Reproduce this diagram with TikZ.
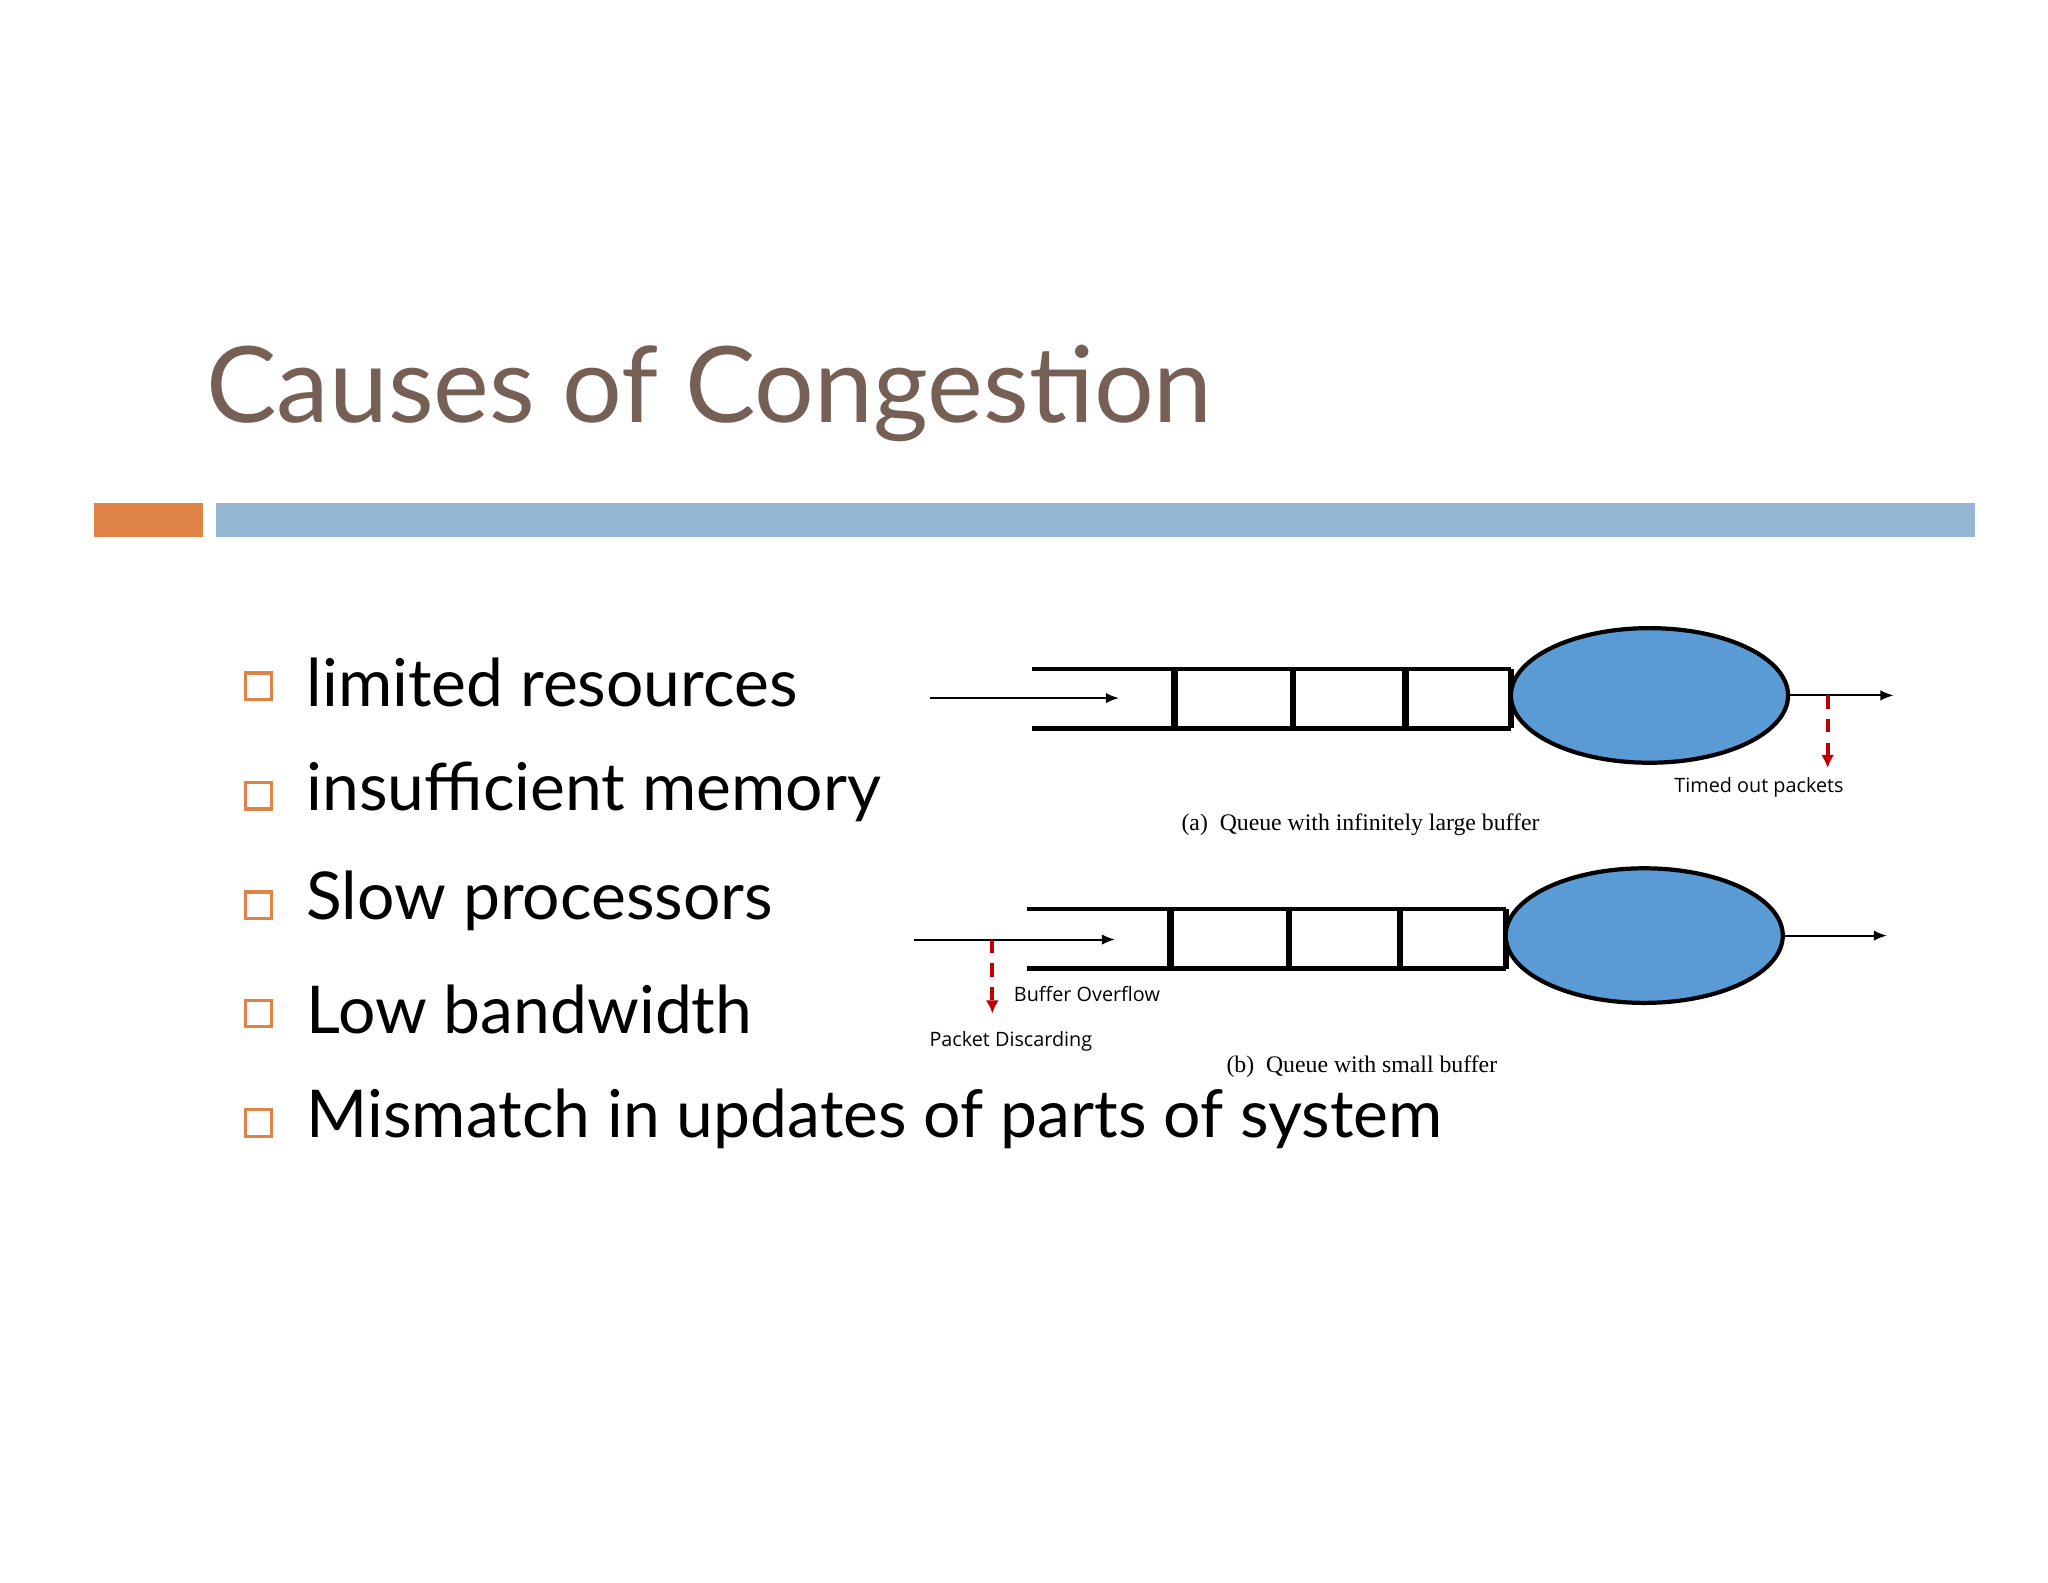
\documentclass[tikz,border=0pt]{standalone}
\usepackage{fontspec}
\setmainfont{Lato}
\newfontfamily\smallsans{Open Sans}
\newfontfamily\capserif{Liberation Serif}
\definecolor{titlec}{RGB}{118,95,84}
\definecolor{orng}{RGB}{222,130,70}
\definecolor{blu}{RGB}{149,182,211}
\definecolor{ball}{RGB}{91,155,213}
\definecolor{dred}{RGB}{192,0,0}
\usetikzlibrary{shapes.geometric,arrows.meta}
\tikzset{
 bul/.style={draw=orng,line width=1.2pt,minimum size=10pt,inner sep=0pt},
 btxt/.style={anchor=west,font=\fontsize{25}{30}\selectfont,inner sep=0pt},
 wall/.style={line width=1.6pt},
 div/.style={line width=2.4pt},
 srv/.style={ellipse,draw,line width=1.6pt,fill=ball,minimum width=105pt,minimum height=51pt,inner sep=0pt},
 arr/.style={-{Latex[length=5pt,width=4pt]},line width=0.8pt},
 drop/.style={-{Latex[length=5pt,width=5pt]},dred,line width=1.5pt,dash pattern=on 5pt off 4pt},
 lab/.style={font=\smallsans\fontsize{7.5}{9}\selectfont,inner sep=0pt},
 captxt/.style={font=\capserif\fontsize{9}{11}\selectfont,inner sep=0pt}
}
\begin{document}
\begin{tikzpicture}[x=0.5pt,y=-0.5pt]
\useasboundingbox (0,0) rectangle (1552,1199);
\node[anchor=base west,inner sep=0pt,text=titlec,font=\fontsize{40}{48}\selectfont] (title) at (156,320) {Causes of Congestion};
\fill[orng] (71,381) rectangle (154,407);
\fill[blu] (164,381) rectangle (1497,407);
\foreach \y/\t [count=\i] in {520/limited resources,603/insufficient memory,686/Slow processors,768/Low bandwidth,851/Mismatch in updates of parts of system}{
 \node[bul] (b\i) at (196,\y) {};
 \node[btxt] (t\i) at (232,\y-3) {\t};
}
% (a)
\coordinate (ai) at (705,529); \coordinate (ae) at (848,529);
\draw[arr] (ai) -- (ae);
\draw[wall] (782,507) -- (1145,507);
\draw[wall] (782,552) -- (1145,552);
\foreach \x in {890,980,1065,1145} \draw[div] (\x,507) -- (\x,552);
\node[srv] (sa) at (1250,527) {};
\coordinate (ao) at (1435,527);
\draw[arr] (sa.east) -- (ao);
\coordinate (ad0) at (1385,527); \coordinate (ad1) at (1385,582);
\draw[drop] (ad0) -- (ad1);
\node[lab] (la) at (1333,597) {Timed out packets};
\node[captxt] (ca) at (1031,625) {(a)\ \ Queue with infinitely large buffer};
% (b)
\coordinate (bi) at (693,712); \coordinate (be) at (845,712);
\draw[arr] (bi) -- (be);
\draw[wall] (778,689) -- (1141,689);
\draw[wall] (778,734) -- (1141,734);
\foreach \x in {887,977,1061,1141} \draw[div] (\x,689) -- (\x,734);
\node[srv] (sb) at (1246,709) {};
\coordinate (bo) at (1430,709);
\draw[arr] (sb.east) -- (bo);
\coordinate (bd0) at (752,712); \coordinate (bd1) at (752,768);
\draw[drop] (bd0) -- (bd1);
\node[lab,anchor=west] (lb1) at (768,753) {Buffer Overflow};
\node[lab,anchor=west] (lb2) at (704,789) {Packet Discarding};
\node[captxt] (cb) at (1032,808) {(b)\ \ Queue with small buffer};
\end{tikzpicture}
\end{document}
